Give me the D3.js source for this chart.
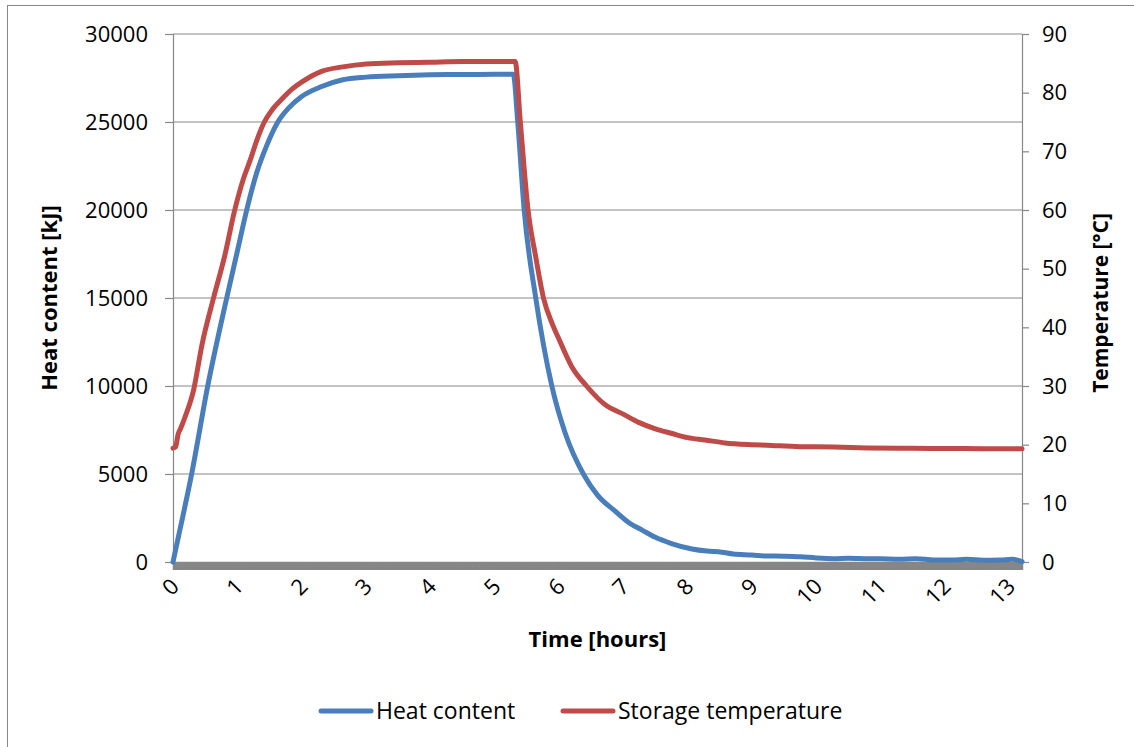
<!DOCTYPE html>
<html>
<head>
<meta charset="utf-8">
<script src="https://cdn.jsdelivr.net/npm/d3@7"></script>
<style>
  html, body { margin: 0; padding: 0; background: #fff; }
  svg { display: block; font-family: "Open Sans", "Noto Sans", sans-serif; }
</style>
</head>
<body>
<svg id="chart" width="1134" height="747"></svg>
<script>
// ---- data ----
const heatTime = [0, 0.1, 0.29, 0.54, 0.835, 1.0, 1.146, 1.3, 1.45, 1.63, 1.8, 2.0, 2.3, 2.64, 3.0, 3.5, 4.0, 4.5, 5.0, 5.29,
  5.36, 5.46, 5.64, 5.89, 6.1, 6.38, 6.6, 6.87, 7.1, 7.3, 7.5, 7.75, 8.07, 8.3, 8.53, 8.71, 9.0, 9.23, 9.5, 9.75,
  10.0, 10.27, 10.5, 10.79, 11.0, 11.3, 11.55, 11.83, 12.1, 12.34, 12.6, 12.86, 13.05, 13.2];
const heatValues = [0, 1700, 5000, 10000, 15000, 17650, 20000, 22100, 23600, 25000, 25800, 26450, 27000, 27400, 27550, 27630, 27680, 27700, 27710, 27720,
  25000, 20000, 15000, 10000, 7300, 5000, 3800, 2900, 2200, 1800, 1400, 1050, 740, 620, 560, 455, 400, 341, 330, 300,
  230, 190, 220, 189, 180, 151, 190, 114, 110, 151, 100, 114, 150, 19];

const tempTime = [0, 0.04, 0.08, 0.12, 0.19, 0.32, 0.45, 0.63, 0.8, 0.96, 1.1, 1.2, 1.3, 1.42, 1.55, 1.7, 1.85, 2.0, 2.3, 2.64,
  3.0, 3.5, 4.0, 4.5, 5.0, 5.32, 5.40, 5.52, 5.64, 5.76, 5.9, 6.0, 6.2, 6.43, 6.72, 7.0, 7.24, 7.5, 7.76, 8.0,
  8.27, 8.58, 9.0, 9.23, 9.75, 10.27, 10.8, 11.3, 11.8, 12.3, 12.8, 13.2];
const tempValues = [19.4, 19.6, 21.8, 22.8, 24.8, 29.3, 37, 45, 52, 60, 65.5, 68.5, 71.8, 75, 77.2, 79, 80.6, 81.8, 83.6, 84.4,
  84.9, 85.1, 85.2, 85.3, 85.3, 85.3, 75, 60, 52, 45, 40.5, 38, 33.3, 30, 26.8, 25.2, 23.8, 22.7, 21.9, 21.2,
  20.8, 20.3, 20.0, 19.9, 19.65, 19.6, 19.45, 19.4, 19.35, 19.35, 19.3, 19.3];

const xTickLabels = ["0", "1", "2", "3", "4", "5", "6", "7", "8", "9", "10", "11", "12", "13"];
const leftTicks = [0, 5000, 10000, 15000, 20000, 25000, 30000];
const rightTicks = [0, 10, 20, 30, 40, 50, 60, 70, 80, 90];

const seriesNames = ["Heat content", "Storage temperature"];
const seriesColors = ["#4A7EBB", "#BE4B48"];

// ---- layout ----
const svg = d3.select("#chart");
const plotLeft = 173, plotRight = 1022, plotTop = 34, plotBottom = 562;
const gray = "#878787";

svg.append("rect").attr("x", 7.5).attr("y", 5.5).attr("width", 1140).attr("height", 760)
  .attr("fill", "none").attr("stroke", gray).attr("stroke-width", 1);

const x = d3.scaleLinear().domain([0, 13.2]).range([plotLeft, plotRight]);
const yL = d3.scaleLinear().domain([0, 30000]).range([plotBottom, plotTop]);
const yR = d3.scaleLinear().domain([0, 90]).range([plotBottom, plotTop]);

// gridlines
svg.append("g").selectAll("line").data(leftTicks.filter(d => d > 0)).join("line")
  .attr("x1", plotLeft).attr("x2", plotRight)
  .attr("y1", d => yL(d)).attr("y2", d => yL(d))
  .attr("stroke", gray).attr("stroke-width", 1.2);

// left axis
const gL = svg.append("g").attr("transform", `translate(${plotLeft},0)`)
  .call(d3.axisLeft(yL).tickValues(leftTicks).tickSize(8).tickPadding(17).tickFormat(d3.format("d")));
gL.select(".domain").attr("stroke", gray).attr("stroke-width", 1.2);
gL.selectAll(".tick line").attr("stroke", gray).attr("stroke-width", 1.2);
gL.selectAll(".tick text").attr("font-size", 22).attr("fill", "#000")
  .attr("font-family", "'Open Sans', sans-serif");

// right axis
const gR = svg.append("g").attr("transform", `translate(${plotRight},0)`)
  .call(d3.axisRight(yR).tickValues(rightTicks).tickSize(7).tickPadding(13));
gR.select(".domain").attr("stroke", gray).attr("stroke-width", 1.2);
gR.selectAll(".tick line").attr("stroke", gray).attr("stroke-width", 1.2);
gR.selectAll(".tick text").attr("font-size", 22).attr("fill", "#000")
  .attr("font-family", "'Open Sans', sans-serif");

// dense category tick marks forming the gray band under the x axis
const gX = svg.append("g").attr("transform", `translate(0,${plotBottom})`)
  .call(d3.axisBottom(x).tickValues(x.ticks(2000)).tickSize(8).tickFormat(""));
gX.select(".domain").attr("stroke", gray).attr("stroke-width", 1.5);
gX.selectAll(".tick line").attr("stroke", gray).attr("stroke-width", 1);

// x tick labels, rotated
svg.append("g").selectAll("text").data(xTickLabels).join("text")
  .attr("transform", d => `translate(${x(+d) + 2},582.5) rotate(-45)`)
  .attr("text-anchor", "end").attr("dy", "0.35em")
  .attr("font-size", 22).attr("fill", "#000")
  .text(d => d);

// lines
const lineHeat = d3.line().x((d, i) => x(heatTime[i])).y(d => yL(d)).curve(d3.curveMonotoneX);
const lineTemp = d3.line().x((d, i) => x(tempTime[i])).y(d => yR(d)).curve(d3.curveMonotoneX);

svg.append("path").datum(heatValues).attr("d", lineHeat)
  .attr("fill", "none").attr("stroke", seriesColors[0]).attr("stroke-width", 5)
  .attr("stroke-linejoin", "round").attr("stroke-linecap", "round");
svg.append("path").datum(tempValues).attr("d", lineTemp)
  .attr("fill", "none").attr("stroke", seriesColors[1]).attr("stroke-width", 5)
  .attr("stroke-linejoin", "round").attr("stroke-linecap", "round");

// axis titles
svg.append("text").attr("transform", "translate(57,298) rotate(-90)")
  .attr("text-anchor", "middle").attr("font-size", 22).attr("font-weight", "bold")
  .text("Heat content [kJ]");
svg.append("text").attr("transform", "translate(1108,303) rotate(-90)")
  .attr("text-anchor", "middle").attr("font-size", 21).attr("font-weight", "bold")
  .text("Temperature [°C]");
svg.append("text").attr("x", (plotLeft + plotRight) / 2).attr("y", 647)
  .attr("text-anchor", "middle").attr("font-size", 22).attr("font-weight", "bold")
  .text("Time [hours]");

// legend
const legendX = [321, 563];
const leg = svg.append("g").selectAll("g").data(seriesNames).join("g")
  .attr("transform", (d, i) => `translate(${legendX[i]},711)`);
leg.append("line").attr("x1", 0).attr("x2", 50).attr("y1", 0).attr("y2", 0)
  .attr("stroke", (d, i) => seriesColors[i]).attr("stroke-width", 5).attr("stroke-linecap", "round");
leg.append("text").attr("x", 55).attr("dy", "0.36em").attr("font-size", 23).attr("fill", "#000")
  .text(d => d);
</script>
</body>
</html>
